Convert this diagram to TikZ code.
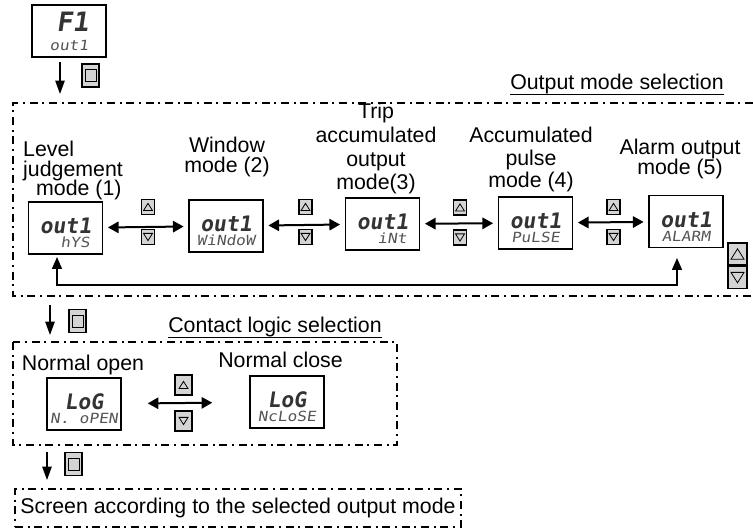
\documentclass[tikz,border=0pt]{standalone}
\usepackage{fontspec}
\setmainfont{Liberation Sans}
\newfontfamily\segfont{DejaVu Sans Mono}[FakeSlant=0.15]
\newfontfamily\segwidefont{DejaVu Sans Mono}[FakeSlant=0.15,FakeStretch=1.15]
\usetikzlibrary{arrows.meta,positioning}

\definecolor{btngray}{HTML}{D4D4D4}
\definecolor{seggray}{HTML}{333333}
\definecolor{seglight}{HTML}{555555}

\newcommand{\segbig}[2][16]{{\segfont\bfseries\fontsize{#1}{#1}\selectfont #2}}
\newcommand{\segsmall}[1]{{\segwidefont\color{seglight}\fontsize{10.5}{10.5}\selectfont #1}}
% two-line display text, first line lowered by a strut
\newcommand{\lcd}[2]{\rule{0pt}{19pt}\segbig{#1}\\\segsmall{#2}}

\tikzset{
  disp/.style={draw, line width=1.1pt, minimum width=55.5pt, minimum height=39pt,
    inner sep=2pt, align=center, text=seggray,
    font={\fontsize{9.5}{10.5}\selectfont\lineskiplimit=-10pt}},
  lbl/.style={inner sep=0pt, align=center, anchor=north,
    font={\fontsize{16}{14.6}\selectfont\lineskiplimit=-10pt}},
  ttl/.style={inner sep=0pt, anchor=north west, font={\fontsize{16}{16}\selectfont}},
  uline/.style={line width=1.1pt},
  grp/.style={line width=1pt, dash pattern=on 6pt off 3.5pt on 1.5pt off 3.5pt},
  dbl/.style={{Triangle[length=8pt,width=8.5pt]}-{Triangle[length=8pt,width=8.5pt]},
    line width=1.5pt, shorten <=3.5pt, shorten >=3.5pt},
  dn/.style={-{Triangle[length=10pt,width=7pt]}, line width=1.1pt},
  ret/.style={{Triangle[length=9pt,width=7.5pt]}-{Triangle[length=9pt,width=7.5pt]},
    line width=1.1pt},
  selbtn/.style={draw, line width=1.4pt, fill=btngray, minimum width=12.75pt,
    minimum height=17.25pt, inner sep=0pt,
    path picture={\draw[line width=0.6pt] (path picture bounding box.center)
      ++(-5.5,-6) rectangle ++(11,12);}},
  keybtn/.style={draw, line width=1.2pt, fill=btngray, minimum width=9.75pt,
    minimum height=11.25pt, inner sep=0pt},
  upbtn/.style={keybtn, path picture={\draw[line width=0.6pt]
    (path picture bounding box.center) ++(-#1,0.8*#1) -- ++(2*#1,0) -- ++(-#1,-1.6*#1) -- cycle;}},
  upbtn/.default=4.5,
  dnbtn/.style={keybtn, path picture={\draw[line width=0.6pt]
    (path picture bounding box.center) ++(-#1,-0.8*#1) -- ++(2*#1,0) -- ++(-#1,1.6*#1) -- cycle;}},
  dnbtn/.default=4.5,
}

\begin{document}
\begin{tikzpicture}[x=0.75pt, y=-0.75pt]
  \useasboundingbox (0,0) rectangle (753,530);

  % Start screen and first key
  \node[disp, align=right, font={\fontsize{9.5}{14.25}\selectfont\lineskiplimit=-10pt}]
    (f1) at (69,31) {\segbig[20]{F1}\\\segsmall{out1}};
  \node[selbtn] (s1) at (90.5,75.5) {};
  \coordinate (d1s) at (60,62);
  \coordinate (d1e) at (60,94);
  \draw[dn] (d1s) -- (d1e);

  % Output mode selection group
  \node[ttl] (tout) at (510,74) {Output mode selection};
  \draw[uline] (tout.south west) -- (tout.south east);
  \draw[grp] (753,103) -- (13,103) -- (13,296) -- (753,296);

  % Mode screens
  \node[disp] (m1) at (65.5,228) {\lcd{out1}{\phantom{00}hYS}};
  \node[disp] (m2) at (226,226) {\lcd{out1}{WiNdoW}};
  \node[disp] (m3) at (382.5,224) {\lcd{out1}{\phantom{00}iNt}};
  \node[disp] (m4) at (535.5,223) {\lcd{out1}{PuLSE}};
  \node[disp] (m5) at (686,221.5) {\lcd{out1}{ALARM}};

  % Mode labels
  \node[lbl, align=left] (l1) at (73,141) {Level\\judgement\\\hspace*{9.75pt}mode (1)};
  \node[lbl] (l2) at (227,137) {Window\\mode (2)};
  \node[lbl, font={\fontsize{16}{17.8}\selectfont\lineskiplimit=-10pt}]
    (l3) at (376,103) {Trip\\accumulated\\output\\mode(3)};
  \node[lbl, font={\fontsize{16}{16.8}\selectfont\lineskiplimit=-10pt}]
    (l4) at (531,127) {Accumulated\\pulse\\mode (4)};
  \node[lbl] (l5) at (680,139) {Alarm output\\mode (5)};

  % Switching between neighbouring modes
  \foreach \a/\b in {m1/m2, m2/m3, m3/m4, m4/m5}
    \draw[dbl] (\a) -- (\b);
  \foreach \n/\x/\y in {1/148/222, 2/305.5/222, 3/460/222.5, 4/613.5/222} {
    \node[upbtn] (up\n) at ({\x},{\y-15}) {};
    \node[dnbtn] (dn\n) at ({\x},{\y+15}) {};
  }

  % Key pair at the right end and return path
  \node[upbtn=6.5, minimum width=14.25pt, minimum height=16.5pt] (upR) at (737.5,254) {};
  \node[dnbtn=6.5, minimum width=14.25pt, minimum height=16.5pt, below=0pt of upR] (dnR) {};
  \coordinate (t1) at (57,257);
  \coordinate (t5) at (677,258);
  \coordinate (rb) at (0,285);
  \draw[ret] (t1) -- (t1 |- rb) -- (t5 |- rb) -- (t5);

  % Contact logic selection group
  \node[selbtn] (s2) at (77.5,321) {};
  \coordinate (d2s) at (50,305);
  \coordinate (d2e) at (50,335);
  \draw[dn] (d2s) -- (d2e);
  \node[ttl] (tlog) at (168,317) {Contact logic selection};
  \draw[uline] (tlog.south west) -- (tlog.south east);
  \draw[grp] (13,342) rectangle (397,445);

  \node[lbl] (lno) at (83,355) {Normal open};
  \node[lbl] (lnc) at (280.5,352) {Normal close};
  \node[disp] (g1) at (84,404) {\lcd{LoG}{N. oPEN}};
  \node[disp] (g2) at (287,402) {\lcd{LoG}{NcLoSE}};
  \draw[dbl, shorten <=19.5pt, shorten >=27.75pt] (g1) -- (g2);
  \node[upbtn, minimum width=12.75pt, minimum height=15pt] (upL) at (183.5,385) {};
  \node[dnbtn, minimum width=12.75pt, minimum height=15pt] (dnL) at (183.5,421) {};

  % Final screen
  \node[selbtn] (s3) at (73.5,464) {};
  \coordinate (d3s) at (47,452);
  \coordinate (d3e) at (47,480);
  \draw[dn] (d3s) -- (d3e);
  \node[grp, draw, minimum width=334.5pt, minimum height=28.5pt,
    font={\fontsize{16}{16}\selectfont}] (scr) at (238,508)
    {Screen according to the selected output mode};
\end{tikzpicture}
\end{document}
